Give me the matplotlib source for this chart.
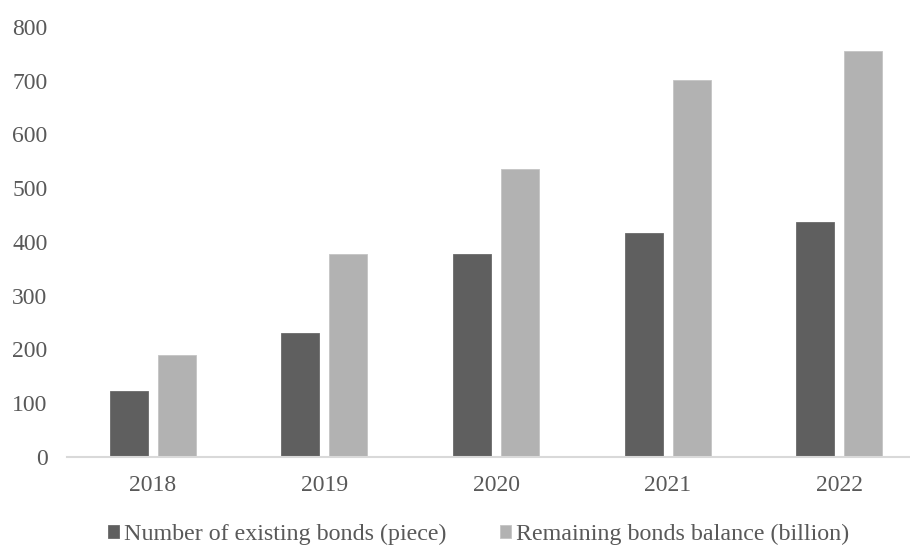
"""Bar chart: existing bonds count and remaining balance, 2018-2022."""
import matplotlib
matplotlib.use("Agg")
import matplotlib.pyplot as plt
import numpy as np

# Data
years = ["2018", "2019", "2020", "2021", "2022"]
bonds_count = [123, 231, 378, 416, 437]
bonds_balance = [190, 377, 535, 701, 756]
labels = ["Number of existing bonds (piece)", "Remaining bonds balance (billion)"]

plt.rcParams["font.family"] = ["Liberation Serif", "DejaVu Serif"]
text_color = "#595959"

fig = plt.figure(figsize=(9.1, 5.46), dpi=100)
ax = fig.add_axes([67 / 910, 1 - 456.7 / 546, 858 / 910, (456.7 - 27) / 546])

x = np.arange(len(years))
width = 0.222
offset = 0.14
ax.bar(x - offset, bonds_count, width, color="#5f5f5f", edgecolor="#6a6a6a",
       linewidth=0.6, label=labels[0], zorder=2)
ax.bar(x + offset, bonds_balance, width, color="#b2b2b2", edgecolor="#c4c4c4",
       linewidth=0.6, label=labels[1], zorder=2)

ax.set_xlim(-0.5, len(years) - 0.5)
ax.set_ylim(0, 800)
ax.set_yticks(range(0, 801, 100))
ax.set_xticks(x)
ax.set_xticklabels(years)

# Despine
for side in ["top", "right", "left"]:
    ax.spines[side].set_visible(False)
ax.spines["bottom"].set_color("#d9d9d9")
ax.spines["bottom"].set_linewidth(1.5)

ax.tick_params(axis="both", length=0, labelsize=17, colors=text_color)
ax.tick_params(axis="x", pad=13)
ax.tick_params(axis="y", pad=14)

fig.legend(loc="center", bbox_to_anchor=(0.526, 1 - 534 / 546), ncol=2,
           frameon=False, fontsize=17.3, handlelength=0.46, handleheight=0.46,
           handletextpad=0.2, columnspacing=2.25, labelcolor=text_color)

fig.savefig("out.png", dpi=100)
